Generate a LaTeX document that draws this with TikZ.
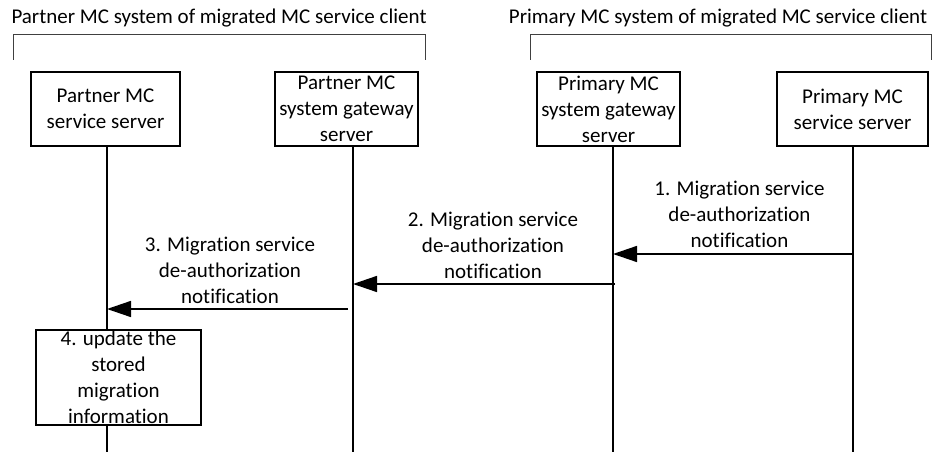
\documentclass[tikz,border=0pt]{standalone}
\usepackage{fontspec}
\setmainfont{Carlito}[Ligatures=CommonOff]
\usetikzlibrary{arrows.meta}

\tikzset{
  entity/.style={draw,line width=1.5pt,inner sep=0pt,align=center,minimum height=74pt},
  lifeline/.style={line width=1.5pt},
  msg/.style={line width=1.5pt,-{Triangle[length=24pt,width=16pt]}},
  msglabel/.style={align=center,inner sep=0pt},
  bracket/.style={line width=1pt,black!75}
}

\begin{document}
\begin{tikzpicture}[x=1pt,y=-1pt,font=\fontsize{21}{26}\selectfont]
\useasboundingbox (0,0) rectangle (942,452);
\node (partnerTitle) at (219,18) {Partner MC system of migrated MC service client};
\node (primaryTitle) at (718,18) {Primary MC system of migrated MC service client};
\draw[bracket] (13,60) -- (13,35) -- (425,35) -- (425,60);
\draw[bracket] (530,60) -- (530,35) -- (931,35) -- (931,60);
\node[entity,minimum width=149pt] (pss) at (105.5,109) {Partner MC\\service server};
\node[entity,minimum width=143pt] (pgw) at (346.5,109) {Partner MC\\system gateway\\server};
\node[entity,minimum width=143pt] (prgw) at (608.5,109) {Primary MC\\system gateway\\server};
\node[entity,minimum width=151pt] (prss) at (852.5,109) {Primary MC\\service server};
\coordinate (pssEnd) at (107,452);
\coordinate (pgwEnd) at (353,452);
\coordinate (prgwEnd) at (613,452);
\coordinate (prssEnd) at (853,452);
\draw[lifeline] (pssEnd |- pss.south) -- (pssEnd);
\draw[lifeline] (pgwEnd |- pgw.south) -- (pgwEnd);
\draw[lifeline] (prgwEnd |- prgw.south) -- (prgwEnd);
\draw[lifeline] (prssEnd |- prss.south) -- (prssEnd);
\node[entity,fill=white,minimum width=165pt,minimum height=95pt] (update) at (118.5,377.5) {4. update the\\stored\\migration\\information};
\coordinate (m1from) at (853,254);
\coordinate (m1to) at (613,254);
\coordinate (m2from) at (615,284);
\coordinate (m2to) at (353,284);
\coordinate (m3from) at (348,309);
\coordinate (m3to) at (107,309);
\draw[msg] (m1from) -- (m1to);
\draw[msg] (m2from) -- (m2to);
\draw[msg] (m3from) -- (m3to);
\node[msglabel] (m1label) at (739.5,214) {1. Migration service\\de-authorization\\notification};
\node[msglabel] (m2label) at (493,245) {2. Migration service\\de-authorization\\notification};
\node[msglabel] (m3label) at (230,270) {3. Migration service\\de-authorization\\notification};
\end{tikzpicture}
\end{document}
